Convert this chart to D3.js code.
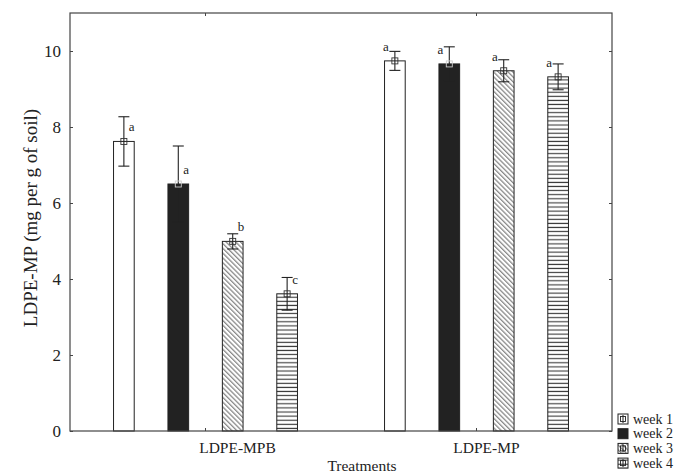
<!DOCTYPE html>
<html lang="en">
<head>
<meta charset="UTF-8">
<script src="https://d3js.org/d3.v7.min.js"></script>
<title>LDPE-MP</title>
<style>
  body { margin: 0; background: white; }
  svg { display: block; font-family: "Liberation Serif", "Times New Roman", serif; }
</style>
</head>
<body>
<svg id="chart"></svg>
<script>
// values
const groups = ["LDPE-MPB", "LDPE-MP"];
const weeks = ["week 1", "week 2", "week 3", "week 4"];
const mpbMeans = [7.62, 6.50, 4.99, 3.61];
const mpbErrors = [0.65, 1.00, 0.20, 0.43];
const mpbLetters = ["a", "a", "b", "c"];
const mpMeans = [9.74, 9.66, 9.48, 9.32];
const mpErrors = [0.25, 0.45, 0.29, 0.34];
const mpLetters = ["a", "a", "a", "a"];
const yTicks = [0, 2, 4, 6, 8, 10];

const w = 686, h = 474;
const margin = {top: 13, right: 74, bottom: 43, left: 70};

const svg = d3.select("#chart").attr("width", w).attr("height", h);

const x0 = d3.scaleBand().domain(groups).range([margin.left, w - margin.right]).padding(0);
const x1 = d3.scaleBand().domain(weeks).range([0, x0.bandwidth()])
    .paddingInner(0.62).paddingOuter(0.8);
const y = d3.scaleLinear().domain([0, 11]).range([h - margin.bottom, margin.top]);

const rows = [];
groups.forEach(function(g, gi){
    const means = gi === 0 ? mpbMeans : mpMeans;
    const errs = gi === 0 ? mpbErrors : mpErrors;
    const letters = gi === 0 ? mpbLetters : mpLetters;
    weeks.forEach(function(wk, i){
        rows.push({group: g, gi: gi, week: wk, wi: i, mean: means[i], err: errs[i], letter: letters[i]});
    });
});

// hatch patterns
const defs = svg.append("defs");
const diag = defs.append("pattern").attr("id", "diag")
    .attr("patternUnits", "userSpaceOnUse").attr("width", 3.4).attr("height", 3.4)
    .attr("patternTransform", "rotate(45)");
diag.append("rect").attr("width", 3.4).attr("height", 3.4).attr("fill", "white");
diag.append("line").attr("x1", 0).attr("x2", 3.4).attr("y1", 1).attr("y2", 1)
    .attr("stroke", "#555").attr("stroke-width", 0.9);
const horiz = defs.append("pattern").attr("id", "horiz")
    .attr("patternUnits", "userSpaceOnUse").attr("width", 6).attr("height", 4.1);
horiz.append("rect").attr("width", 6).attr("height", 4.1).attr("fill", "white");
horiz.append("line").attr("x1", 0).attr("x2", 6).attr("y1", 2).attr("y2", 2)
    .attr("stroke", "#333").attr("stroke-width", 1.1);

const fills = ["white", "#222", "url(#diag)", "url(#horiz)"];

// bars
svg.append("g").selectAll("rect")
   .data(rows)
   .enter()
   .append("rect")
   .attr("x", d => x0(d.group) + x1(d.week))
   .attr("y", d => y(d.mean))
   .attr("width", x1.bandwidth())
   .attr("height", d => y(0) - y(d.mean))
   .attr("fill", d => fills[d.wi])
   .attr("stroke", "#222")
   .attr("stroke-width", 1);

// error bars
const cx = d => x0(d.group) + x1(d.week) + x1.bandwidth() / 2;
const eb = svg.append("g").attr("stroke", "#222").attr("stroke-width", 1.1).attr("fill", "none");
rows.forEach(function(d){
    const c = cx(d);
    eb.append("line").attr("x1", c).attr("x2", c).attr("y1", y(d.mean - d.err)).attr("y2", y(d.mean + d.err));
    eb.append("line").attr("x1", c - 5.5).attr("x2", c + 5.5).attr("y1", y(d.mean + d.err)).attr("y2", y(d.mean + d.err));
    eb.append("line").attr("x1", c - 5.5).attr("x2", c + 5.5).attr("y1", y(d.mean - d.err)).attr("y2", y(d.mean - d.err));
    eb.append("rect").attr("x", c - 3).attr("y", y(d.mean) - 3).attr("width", 6).attr("height", 6)
      .attr("stroke", d.wi === 1 ? "#ccc" : "#333").attr("stroke-width", 0.9);
});

// significance letters
svg.append("g").selectAll("text")
   .data(rows)
   .enter()
   .append("text")
   .attr("x", d => d.gi === 0 ? cx(d) + 5 : cx(d) - 6)
   .attr("y", d => y(d.mean) - 10)
   .attr("text-anchor", d => d.gi === 0 ? "start" : "end")
   .attr("font-size", 13)
   .attr("fill", "#222")
   .text(d => d.letter);

// frame and ticks
const pLeft = margin.left, pRight = w - margin.right, pTop = margin.top, pBottom = h - margin.bottom;
svg.append("rect").attr("x", pLeft).attr("y", pTop).attr("width", pRight - pLeft).attr("height", pBottom - pTop)
   .attr("fill", "none").attr("stroke", "#444").attr("stroke-width", 1.2);

const yAxis = d3.axisLeft(y).tickValues(yTicks).tickSize(-3).tickPadding(9).tickFormat(d3.format("d"));
const gy = svg.append("g").attr("transform", "translate(" + pLeft + ",0)").call(yAxis)
   .attr("font-family", "Liberation Serif");
gy.select(".domain").remove();
gy.selectAll("line").attr("stroke", "#444");
gy.selectAll("text").attr("font-size", 17).attr("fill", "#222");

const gyR = svg.append("g").attr("transform", "translate(" + pRight + ",0)")
   .call(d3.axisRight(y).tickValues(yTicks).tickSize(-3).tickFormat(""));
gyR.select(".domain").remove();
gyR.selectAll("line").attr("stroke", "#444");

const gxT = svg.append("g").attr("transform", "translate(0," + pTop + ")")
   .call(d3.axisTop(x0).tickSize(-3).tickFormat(""));
gxT.select(".domain").remove();
gxT.selectAll("line").attr("stroke", "#444");

const gxB = svg.append("g").attr("transform", "translate(0," + pBottom + ")")
   .call(d3.axisBottom(x0).tickSize(-3).tickFormat(""));
gxB.select(".domain").remove();
gxB.selectAll("line").attr("stroke", "#444");

// category labels sit a little right of their ticks in the original
const labelShift = [32, 10];
svg.append("g").selectAll("text")
   .data(groups)
   .enter()
   .append("text")
   .attr("x", (d, i) => x0(d) + x0.bandwidth() / 2 + labelShift[i])
   .attr("y", pBottom + 22)
   .attr("text-anchor", "middle")
   .attr("font-size", 15.5)
   .attr("fill", "#222")
   .text(d => d);

svg.append("text")
   .attr("x", 362).attr("y", 471)
   .attr("text-anchor", "middle")
   .attr("font-size", 15.5)
   .attr("fill", "#222")
   .text("Treatments");

svg.append("text")
   .attr("transform", "translate(37," + ((pTop + pBottom) / 2 - 4) + ") rotate(-90)")
   .attr("text-anchor", "middle")
   .attr("font-size", 19)
   .attr("fill", "#222")
   .text("LDPE-MP (mg per g of soil)");

// legend
const legend = svg.append("g").attr("transform", "translate(618,414)");
weeks.forEach(function(wk, i){
    const row = legend.append("g").attr("transform", "translate(0," + (i * 14.7) + ")");
    row.append("rect").attr("width", 10).attr("height", 10)
       .attr("fill", fills[i]).attr("stroke", "#222").attr("stroke-width", 1);
    if (i !== 1) {
        row.append("line").attr("x1", 5).attr("x2", 5).attr("y1", 1).attr("y2", 9).attr("stroke", "#222");
        row.append("rect").attr("x", 2.5).attr("y", 2.5).attr("width", 5).attr("height", 5)
           .attr("fill", "none").attr("stroke", "#222").attr("stroke-width", 0.9);
    }
    row.append("text").attr("x", 15).attr("y", 9.5)
       .attr("font-size", 14).attr("fill", "#222").text(wk);
});
</script>
</body>
</html>
